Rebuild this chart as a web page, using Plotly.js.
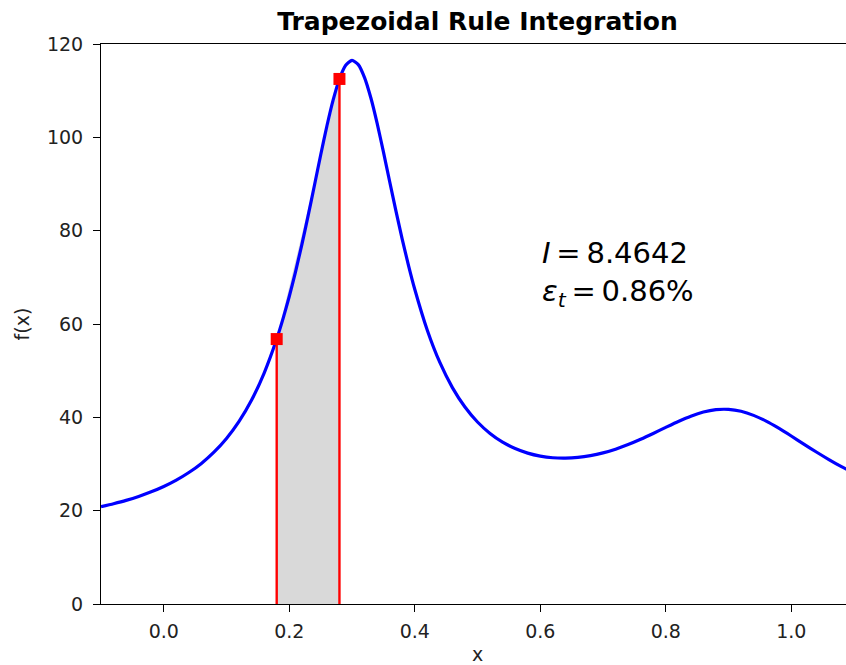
<!DOCTYPE html>
<html>
<head>
<meta charset="utf-8">
<script src="https://cdn.plot.ly/plotly-3.0.1.min.js"></script>
<style>
html, body { margin: 0; padding: 0; overflow: hidden; background: #fff; }
#chart { width: 855px; height: 665px; }
</style>
</head>
<body>
<div id="chart"></div>
<script>
// Curve f(x)
const curveX = [-0.10,-0.08,-0.06,-0.04,-0.02,0.00,0.02,0.04,0.06,0.08,0.10,0.12,0.14,0.16,0.18,0.19,0.20,0.21,0.22,0.23,0.24,0.25,0.26,0.27,0.28,0.29,0.30,0.31,0.32,0.33,0.34,0.35,0.36,0.37,0.38,0.39,0.40,0.42,0.44,0.46,0.48,0.50,0.52,0.54,0.56,0.58,0.60,0.62,0.64,0.66,0.68,0.70,0.72,0.74,0.76,0.78,0.80,0.82,0.84,0.86,0.88,0.90,0.92,0.94,0.96,0.98,1.00,1.02,1.04,1.06,1.08,1.10];
const curveY = [20.84,21.48,22.20,23.04,24.03,25.18,26.54,28.17,30.13,32.53,35.47,39.13,43.71,49.49,56.77,61.09,65.89,71.19,76.97,83.16,89.63,96.16,102.43,108.03,112.51,115.44,116.50,115.59,112.81,108.48,103.04,96.92,90.54,84.23,78.20,72.58,67.45,58.68,51.76,46.37,42.21,39.00,36.55,34.69,33.31,32.33,31.69,31.34,31.26,31.41,31.79,32.38,33.18,34.16,35.29,36.54,37.85,39.12,40.25,41.13,41.64,41.70,41.29,40.42,39.18,37.67,36.00,34.27,32.57,30.95,29.43,28.04];
// Trapezoid nodes
const nodeX = [0.18, 0.28];
const nodeY = [56.77, 112.51];
const integralText = "8.4642";
const errorText = "0.86%";
const xTicks = [0.0, 0.2, 0.4, 0.6, 0.8, 1.0];
const xTickLabels = ["0.0", "0.2", "0.4", "0.6", "0.8", "1.0"];
const yTicks = [0, 20, 40, 60, 80, 100, 120];

const fillTrace = {
  x: [nodeX[0], nodeX[0], nodeX[1], nodeX[1], nodeX[0]],
  y: [0, nodeY[0], nodeY[1], 0, 0],
  type: 'scatter', mode: 'lines', fill: 'toself',
  fillcolor: '#d9d9d9', line: {width: 0, color: 'rgba(0,0,0,0)'},
  hoverinfo: 'skip', showlegend: false
};
const curveTrace = {
  x: curveX, y: curveY, type: 'scatter', mode: 'lines',
  line: {color: '#0000ff', width: 3.2, shape: 'spline', smoothing: 0.6},
  showlegend: false
};
const vx = [], vy = [];
nodeX.forEach((x, i) => { vx.push(x, x, null); vy.push(0, nodeY[i], null); });
const vlineTrace = {
  x: vx, y: vy, type: 'scatter', mode: 'lines',
  line: {color: '#ff0000', width: 2.4}, showlegend: false
};
const markerTrace = {
  x: nodeX, y: nodeY, type: 'scatter', mode: 'markers',
  marker: {symbol: 'square', size: 12, color: '#ff0000'}, showlegend: false
};

const font = 'DejaVu Sans, sans-serif';
const layout = {
  width: 855, height: 665,
  margin: {l: 101, r: 1, t: 44, b: 61},
  paper_bgcolor: '#fff', plot_bgcolor: '#fff',
  font: {family: font, color: '#000', size: 19},
  title: {text: '<b>Trapezoidal Rule Integration</b>', font: {family: font, size: 25, color: '#000'},
          x: 0.5, xref: 'paper', y: 1 - 21 / 665, yref: 'container', yanchor: 'middle'},
  xaxis: {
    range: [-0.1, 1.1], tickvals: xTicks, ticktext: xTickLabels,
    showline: true, linecolor: '#000', linewidth: 1, mirror: true,
    ticks: 'outside', ticklen: 7, tickcolor: '#000', showgrid: false, zeroline: false,
    tickfont: {family: font, size: 19, color: '#222'}, ticklabelstandoff: 3,
    title: {text: 'x', font: {family: font, size: 19, color: '#222'}, standoff: 6}
  },
  yaxis: {
    range: [0, 120], tickvals: yTicks,
    showline: true, linecolor: '#000', linewidth: 1, mirror: true,
    ticks: 'outside', ticklen: 7, tickcolor: '#000', showgrid: false, zeroline: false,
    tickfont: {family: font, size: 19, color: '#222'}, ticklabelstandoff: 6,
    title: {text: 'f(x)', font: {family: font, size: 19, color: '#222'}, standoff: 12}
  },
  annotations: [{
    x: 0.6, y: 70.8, xref: 'x', yref: 'y', xanchor: 'left', yanchor: 'middle',
    align: 'left', showarrow: false,
    text: '<i>I</i>\u2009=\u2009' + integralText + '<br><i>ε</i><sub><i>t</i></sub>\u2009=\u2009' + errorText,
    font: {family: font, size: 29, color: '#000'}
  }]
};
Plotly.newPlot('chart', [fillTrace, curveTrace, vlineTrace, markerTrace], layout, {displayModeBar: false, staticPlot: true});
</script>
</body>
</html>
